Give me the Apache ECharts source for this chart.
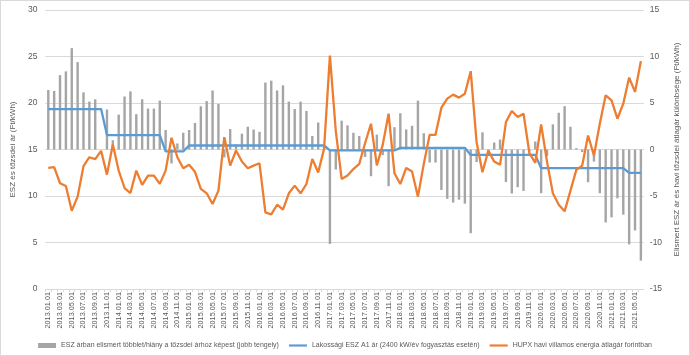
<!DOCTYPE html>
<html>
<head>
<meta charset="utf-8">
<script src="https://cdn.jsdelivr.net/npm/echarts@6/dist/echarts.min.js"></script>
<style>
html,body{margin:0;padding:0;background:#fff;}
#c{width:688px;height:354px;border:1px solid #d9d9d9;}
</style>
</head>
<body>
<div id="c"></div>
<script>
// Category labels: monthly from 2013.01 to 2021.06
var startYear = 2013, startMonth = 1, monthCount = 102;
var categories = [];
for (var k = 0; k < monthCount; k++) {
  var m = startMonth - 1 + k;
  var y = startYear + Math.floor(m / 12);
  var mm = (m % 12) + 1;
  categories.push(y + '.' + (mm < 10 ? '0' + mm : mm) + '.01');
}

// Lakossági ESZ A1 ár (Ft/kWh)
var eszPrice = [
  19.35,19.35,19.35,19.35,19.35,19.35,19.35,19.35,19.35,19.35,
  16.55,16.55,16.55,16.55,16.55,16.55,16.55,16.55,16.55,16.55,
  14.8,14.8,14.8,14.8,
  15.43,15.43,15.43,15.43,15.43,15.43,15.43,15.43,15.43,15.43,15.43,15.43,
  15.43,15.43,15.43,15.43,15.43,15.43,15.43,15.43,15.43,15.43,15.43,15.43,
  14.9,14.9,14.9,14.9,14.9,14.9,14.9,14.9,14.9,14.9,14.9,14.9,
  15.18,15.18,15.18,15.18,15.18,15.18,15.18,15.18,15.18,15.18,15.18,15.18,
  14.42,14.42,14.42,14.42,14.42,14.42,14.42,14.42,14.42,14.42,14.42,14.42,
  12.99,12.99,12.99,12.99,12.99,12.99,12.99,12.99,12.99,12.99,12.99,12.99,12.99,12.99,12.99,
  12.48,12.48,12.48
];

// HUPX havi villamos energia átlagár (Ft/kWh)
var hupxPrice = [
  13.02,13.1,11.37,11.08,8.42,9.93,13.2,14.17,13.96,14.85,
  12.3,15.54,12.73,10.86,10.32,12.73,11.19,12.19,12.2,11.3,
  12.73,16.26,14.17,12.99,13.35,12.6,10.76,10.29,9.14,10.58,
  16.33,13.27,14.89,13.71,12.99,13.27,13.52,8.24,8.02,9.06,
  8.53,10.29,11.12,10.29,11.29,13.99,12.52,15.07,25.1,17.0,
  11.83,12.2,12.9,13.45,15.7,17.77,13.3,15.5,18.85,12.45,
  11.29,13.02,12.63,9.93,13.45,16.58,16.58,19.5,20.47,20.9,
  20.58,21.0,23.42,15.79,12.55,14.89,13.7,13.35,17.95,19.14,
  18.49,18.85,14.6,13.56,17.7,13.7,10.29,9.06,8.35,10.58,
  12.81,13.27,16.51,14.35,17.77,20.83,20.29,18.31,19.93,22.73,
  21.19,24.5
];

// ESZ árban elismert többlet/hiány a tőzsdei árhoz képest (jobb tengely)
var difference = [
  6.4,6.3,8.0,8.4,10.9,9.4,6.15,5.15,5.4,null,
  4.3,1.0,3.75,5.7,6.25,3.8,5.4,4.4,4.4,5.25,
  2.1,-1.5,0.65,1.8,2.1,2.85,4.65,5.2,6.35,4.9,
  -0.85,2.2,0.55,1.7,2.45,2.15,1.9,7.2,7.4,6.35,
  6.9,5.15,4.35,5.15,4.15,1.45,2.9,0.36,-10.15,-2.15,
  3.1,2.6,1.8,1.45,-0.8,-2.87,1.6,-0.6,-3.95,2.4,
  3.9,2.16,2.55,5.25,1.75,-1.4,-1.4,-4.35,-5.3,-5.7,
  -5.4,-5.82,-9.0,-1.35,1.85,-0.47,0.75,1.07,-3.5,-4.73,
  -4.05,-4.45,-0.18,0.86,-4.7,-0.7,2.7,3.95,4.66,2.45,
  0.15,-0.28,-3.52,-1.3,-4.7,-7.85,-7.3,-5.25,-7.0,-10.2,
  -8.7,-11.95
];

var leftTicks = {min: 0, max: 30, interval: 5};
var rightTicks = {min: -15, max: 15, interval: 5};

var names = [
  'ESZ árban elismert többlet/hiány a tőzsdei árhoz képest (jobb tengely)',
  'Lakossági ESZ A1 ár (2400 kW/év fogyasztás esetén)',
  'HUPX havi villamos energia átlagár forintban'
];

var txt = '#595959';
var gridCol = '#d9d9d9';
var lineIcon = 'path://M0,0L20,0L20,2.4L0,2.4Z';
var chart = echarts.init(document.getElementById('c'), null, {renderer: 'canvas'});
chart.setOption({
  animation: false,
  textStyle: {fontFamily: 'Liberation Sans, Arial, sans-serif'},
  grid: {left: 39, right: 43, top: 9, bottom: 66, containLabel: false},
  legend: {
    bottom: 6,
    left: 'center',
    width: 686,
    itemGap: 10,
    itemWidth: 18,
    itemHeight: 5,
    padding: 0,
    textStyle: {color: txt, fontSize: 7, fontFamily: 'Liberation Sans, Arial, sans-serif'},
    data: [
      {name: names[0], icon: 'rect'},
      {name: names[1], icon: lineIcon},
      {name: names[2], icon: lineIcon}
    ]
  },
  xAxis: {
    type: 'category',
    data: categories,
    boundaryGap: true,
    axisLine: {lineStyle: {color: gridCol}},
    axisTick: {show: true, interval: 0, length: 3, lineStyle: {color: gridCol}},
    axisLabel: {color: txt, fontSize: 7.3, rotate: 90, interval: 1, margin: 3}
  },
  yAxis: [
    {
      type: 'value', position: 'left',
      min: leftTicks.min, max: leftTicks.max, interval: leftTicks.interval,
      name: 'ESZ és tőzsdei ár (Ft/kWh)',
      nameLocation: 'middle', nameRotate: 90, nameGap: 22,
      nameTextStyle: {color: txt, fontSize: 8},
      axisLine: {show: false}, axisTick: {show: false},
      axisLabel: {color: txt, fontSize: 8.5, margin: 8},
      splitLine: {lineStyle: {color: gridCol, width: 1}}
    },
    {
      type: 'value', position: 'right',
      min: rightTicks.min, max: rightTicks.max, interval: rightTicks.interval,
      name: 'Elismert ESZ ár és havi tőzsdei átlagár különbsége (Ft/kWh)',
      nameLocation: 'middle', nameRotate: 90, nameGap: 28,
      nameTextStyle: {color: txt, fontSize: 8},
      axisLine: {show: false}, axisTick: {show: false},
      axisLabel: {color: txt, fontSize: 8.5, margin: 6},
      splitLine: {show: false}
    }
  ],
  series: [
    {
      name: names[0], type: 'bar', yAxisIndex: 1,
      data: difference, barWidth: 2.4,
      itemStyle: {color: '#a5a5a5'}
    },
    {
      name: names[1], type: 'line', yAxisIndex: 0,
      data: eszPrice, symbol: 'none', showSymbol: false,
      lineStyle: {color: '#5b9bd5', width: 2.3},
      itemStyle: {color: '#5b9bd5'}
    },
    {
      name: names[2], type: 'line', yAxisIndex: 0,
      data: hupxPrice, symbol: 'none', showSymbol: false,
      lineStyle: {color: '#ed7d31', width: 2.3},
      itemStyle: {color: '#ed7d31'}
    }
  ]
});
</script>
</body>
</html>
